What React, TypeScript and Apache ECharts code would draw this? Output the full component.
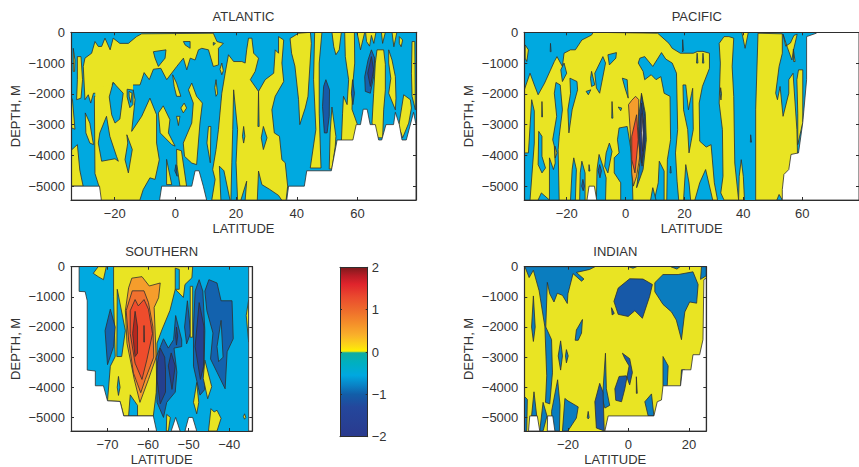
import React, { useEffect, useRef } from "react";
import * as echarts from "echarts";

const depthTicks = [0, -1000, -2000, -3000, -4000, -5000];
const depthBottom = -5450;
const atlanticLat = [-34.4, 79.3];
const pacificLat = [-34.4, 79.3];
const southernLat = [-79, -34.3];
const indianLat = [-34.4, 25.7];
const atlanticTicks = [-20, 0, 20, 40, 60];
const pacificTicks = [-20, 0, 20, 40, 60];
const southernTicks = [-70, -60, -50, -40];
const indianTicks = [-20, 0, 20];
const barTicks = [2, 1, 0, -1, -2];

// contour levels (P joins two yellow regions of the same level, with no contour line between them)
const Y = 0.25, P = 0.26, O = 0.75, R = 1.25, D = 1.75, C = -0.25, B = -0.75, M = -1, N = -1.25, K = -1.75, X = 9, L = 99;

// [level, lat, depth, lat, depth, ...]
const atlanticRegions: number[][] = [
  [Y, -29.8,-840,-27.6,-680,-26.5,-300,-25.4,-460,-24.3,-460,-23.2,-190,-21.5,-570,-20.5,-190,-18.3,-360,-15.5,-360,-12.8,-140,-11.1,-50,12.5,-30,13.7,-300,15.8,-360,14.2,-520,14.2,-1060,12.5,-1110,10.9,-570,8.7,-520,7.6,-570,6.5,-900,4.9,-840,3.75,-1220,2.65,-840,0.45,-1110,-2.85,-1540,-4.8,-1170,-7.25,-1200,-8.6,-1540,-10.3,-1310,-11.65,-1710,-13.85,-1710,-15.5,-1760,-17.7,-1780,-18.8,-1810,-20.5,-1630,-22.1,-2030,-23.2,-1870,-24.3,-2030,-25.4,-1980,-27,-1980,-27.9,-2300,-28.7,-2030,-29.8,-2190,-30.35,-1110],
  [Y, -32.3,-790,-31.1,-790,-30.6,-1540,-31.1,-2140,-32.55,-2190,-32.3,-1540],
  [Y, -33.65,-520,-33.1,-900,-33.2,-1270,-33.65,-1270],
  [Y, -34.4,-2100,-33.9,-2200,-33.1,-3150,-34.4,-3100],
  [Y, -34.4,-5000,-34.4,-3840,-32.3,-3650,-31.5,-4480,-30.4,-5000],
  [Y, -29.7,-2620,-28.2,-2950,-27,-3650,-28.2,-3600,-29.5,-3270],
  [Y, -26.5,-4590,-26.7,-2080,-25.2,-2080,-24.3,-2190,-22.7,-1870,-19.9,-1780,-13.9,-1870,-13.3,-2190,-14.4,-3220,-11.1,-2730,-8.4,-2140,-6.2,-2680,-6.2,-3600,-5.3,-4140,-6.7,-4780,-8.4,-4730,-10.6,-5110,-11.7,-5450,-24.9,-5450,-25.2,-5000],
  [P, -26.4,-1800,-13.95,-1600,-14,-2300,-26.4,-2300],
  [C, -22.7,-2730,-21.6,-3380,-19.4,-4030,-18.8,-4190,-19.9,-4110,-24.3,-4190,-25.4,-3600,-24.9,-3270],
  [C, -16,-3330,-14.2,-3810,-15.5,-4570,-16.6,-4140,-15.7,-3600],
  [C, -20.5,-1630,-18.8,-1810,-17.2,-1980,-18.3,-2820,-19.9,-2950,-21,-2680,-21.8,-2100],
  [C, -15.9,-1850,-13.9,-1880,-14,-2350,-15,-2450,-15.9,-2100],
  [Y, -15.3,-1920,-14.3,-1980,-14.7,-2280,-15.2,-2100],
  [C, -7.25,-630,-3.1,-570,-3.4,-840,-5.6,-1110,-6.7,-840],
  [C, 2.65,-300,4.85,-300,4.85,-520,3.2,-410],
  [C, 12.5,-330,13.2,-360,12.5,-420],
  [Y, -4,-2390,-1.8,-2840,-2.3,-3270,-0.1,-3700,-1.2,-3650,-5,-3270,-5.6,-2620],
  [Y, -2.9,-4130,-1.2,-4950,-2.9,-4950],
  [Y, 0.4,-3800,2,-3850,3.7,-5000,1.5,-5000,0.5,-4300],
  [Y, 5.4,-1650,7,-2080,8.9,-2300,8.1,-2950,7,-4300,5.4,-4250,3,-4030,2.6,-3600,5.4,-2950,5.9,-2300,4.3,-1870],
  [Y, -0.9,-1380,0.4,-1650,1.8,-2080,0.4,-2080,-0.4,-1760],
  [Y, 2.9,-2300,3.7,-2460,2.6,-2620,1.8,-2460],
  [Y, 0.4,-2730,1.5,-2730,1,-3030],
  [Y, 10.9,-3060,11.7,-3060,11.5,-4240,10.4,-3600],
  [Y, 13.4,-1540,13.9,-2000,13.4,-2080,13,-1800],
  [Y, 15.3,-1000,15.8,-1250,15.3,-1380,14.7,-1200],
  [Y, 17.5,-730,16.4,-1330,15.3,-1980,14.2,-3160,13.4,-3810,12.3,-4460,13.1,-4780,12,-5450,36.5,-5450,37,-5000,36.2,-4240,35.1,-4140,34.3,-3380,32.6,-3270,31.8,-2520,32.9,-2080,35.7,-1600,35.1,-1000,35.7,-250,34,-140,34,-680,32.9,-570,32.4,-1330,29.6,-1540,27.4,-1920,24.7,-1540,26.3,-1270,27.4,-840,25.8,-680,25.2,-190,24.1,-190,23.5,-570,23,-1000,21.9,-950,19.2,-950],
  [C, 19.2,-1870,20.5,-3160,20,-4240,20.5,-5450,18.3,-5450,18.6,-4240,18.9,-3160],
  [C, 14.5,-4350,16,-4500,18,-5450,15,-5450],
  [C, 23.5,-4840,21.6,-5450,23,-5450],
  [C, 27.4,-4510,28.5,-4950,31,-5100,34,-5300,35,-5450,27,-5450],
  [C, 27.4,-1920,27.6,-3060,27.2,-3060],
  [C, 22.5,-3060,22.9,-3380,22.5,-3600,22.1,-3380],
  [C, 29,-3060,30.2,-3430,29,-3810,28.3,-3430],
  [Y, 37.8,-200,40.6,-30,44.5,0,44.8,-360,43.7,-2080,42.8,-2460,41,-3000,40.6,-2190,39.4,-1100,38.3,-680],
  [Y, 45.9,0,48.3,0,47.4,-1000,47.4,-2630,48,-4410,44.45,-4410,46.3,-3160,45.55,-1540],
  [Y, 51.6,0,54.7,0,54,-570,52.9,-730,52.2,-470],
  [Y, 51,-3270,51.6,-2430,52.9,-3380,52.7,-3700,51.6,-4440,50.7,-4440],
  [Y, 55.8,0,59,0,59.1,-1000,58.4,-1760,58.2,-2500,60,-3000,59.3,-3600,54.7,-3600,55.1,-2630,55.4,-2080,56.6,-2350,57.1,-1540,56,-790],
  [Y, 59.85,0,62.4,0,61,-570,60.4,-250],
  [Y, 62.7,0,66.1,0,65.4,-360,64.6,-100,64,-450,63,-300],
  [Y, 67.9,0,69.2,0,68.3,-360],
  [Y, 71.4,0,73,0,72,-470],
  [Y, 73.8,-140,74.9,-250,74.4,-470,73.8,-360],
  [Y, 66.45,-570,68.65,-570,69.2,-1040,69.2,-1870,68.65,-2520,68.3,-3430,66.8,-3430,64.8,-2950,65.35,-1980,65.9,-1000],
  [Y, 70.3,-570,71.4,-900,72.5,-1440,72.7,-2140,72.5,-2520,70.3,-1980,71,-1500,70.3,-1000],
  [Y, 75.25,-2030,77.45,-2190,77.8,-2460,76.9,-2950,74.9,-3430,73.6,-3050],
  [Y, 78,-300,78.9,-300,79.1,-2520,78,-2080,77.8,-1330],
  [N, 49.6,-1540,50.8,-1870,50.7,-2730,50,-3270,49.1,-3270,48.5,-2410,48.85,-1760],
  [M, 58.4,-1540,59,-1980,58.5,-2350,58,-1980],
  [M, 64.6,-570,65.7,-840,65.35,-1440,64.25,-1980,62.6,-1920,62.4,-1440,63.5,-900],
  [K, 64.6,-790,65.35,-1220,64.25,-1760,63.4,-1330],
  [M, 0.2,-4300,0.6,-4680,-0.2,-4500],
  [L, -34.4,-5000,-25,-5000,-24.4,-5450,-34.4,-5450],
  [L, -5.2,-5450,-4.5,-5000,5.4,-5000,6.5,-4500,7.8,-4500,9.2,-5000,10.3,-5450],
  [L, 36.7,-5450,37.3,-5000,42.5,-5000,43.3,-4500,51.4,-4500,53.3,-3500,58.5,-3500,59.6,-3000,61,-3000,61.9,-2500,63.2,-2500,64.2,-3000,65.9,-3000,67,-3500,68,-3500,69.4,-3000,71.9,-3000,72.5,-2600,73.8,-3000,74.7,-3500,76.1,-3500,78.5,-2600,79.3,-3000,79.3,-5450],
];

const pacificRegions: number[][] = [
  [Y, -34.4,-1870,-32.45,-1330,-30.8,-1760,-29.7,-2030,-27.5,-1650,-24.2,-950,-23.3,-790,-21.45,-1110,-20.9,-680,-18.7,-570,-17.05,-570,-14.85,-250,-11.55,-90,-11,0,10.9,-30,14.75,-360,15.85,-520,18.6,-680,23,-680,24.5,-620,26.3,-620,28.5,-680,28.5,-1170,26.1,-1760,25,-2300,25.2,-3540,27.4,-3730,29.05,-3650,30.15,-4890,31.25,-5450,-34.4,-5450],
  [Y, -34.1,-410,-33,-570,-33.55,-950,-34.1,-840],
  [C, -25.5,-360,-25.3,-630,-25.6,-630],
  [C, -20.9,-1000,-20,-1330,-21.45,-1600,-22,-1220],
  [C, -31.9,-2190,-31,-2560,-31,-3600,-32.45,-5450,-34.4,-5450,-34.4,-3920,-33,-3920],
  [C, -28.4,-2250,-28.2,-2750,-28.5,-2750],
  [C, -29.5,-3220,-28.4,-3380,-28.4,-4030,-27.2,-4410,-28.4,-4570,-29.7,-4300],
  [C, -23.65,-1630,-22.2,-1710,-21.45,-2520,-22.55,-3380,-22.9,-3810,-22.55,-5450,-25.85,-5450,-25.85,-4080,-24.5,-4460,-23.9,-4250,-24.2,-3700,-24.75,-3490,-23.4,-2730,-24.2,-1980],
  [Y, -24,-3700,-23.3,-3920,-23.9,-4080],
  [C, -18.9,-1490,-16.5,-1600,-16.3,-1870,-18.15,-2520,-19.25,-3270,-19.6,-2520,-18.7,-1980],
  [C, -6,-730,-3.1,-660,-3.3,-840,-5.5,-1060],
  [C, -7.7,-790,-6.8,-1000,-8.8,-1980,-9.9,-1810,-10.45,-1330],
  [C, -11.55,-1270,-10.45,-1710,-11.55,-1760,-11.9,-1500],
  [C, -13.4,-1920,-11.8,-1870,-12.65,-2030],
  [C, -4.6,-2250,-4.3,-2790,-4.7,-2790],
  [C, -2.5,-2430,-1.3,-2460,-1.65,-2550],
  [C, -1.1,-1490,0.55,-1540,0.9,-2140,-0.2,-1810],
  [C, -2.2,-3110,0.55,-3060,2,-3920,2.5,-5450,-1.65,-5450,-1.65,-4890,-3.85,-4570,-3.85,-4080,-2.2,-3920,-2.75,-3490],
  [C, -17.6,-4080,-16.7,-4460,-17.05,-5450,-18.7,-5450,-18.15,-4460],
  [C, -14.85,-4190,-13.75,-4570,-13.75,-5450,-15.6,-5450,-15.4,-4570],
  [M, -14.5,-4780,-14,-5000,-14.4,-5150,-14.9,-5000],
  [C, -12.4,-4300,-12.1,-4510,-12.5,-4510],
  [C, -9,-3970,-7.7,-4350,-6.6,-4730,-6.8,-5450,-9.9,-5450,-9.7,-4460],
  [M, -8.8,-4300,-8.2,-4500,-8.7,-4730,-9.3,-4500],
  [C, -5.5,-3600,-4.6,-3870,-6,-4570,-7.1,-4350,-6.6,-3920],
  [C, -28.6,-5220,-25.85,-5450,-29.7,-5450],
  [C, 4.85,-840,6.5,-790,9.25,-1110,12.2,-660,13.65,-870,15.85,-1000,17.3,-1330,17.7,-3160,16.95,-3920,17.5,-4840,18.05,-5450,14,-5450,14.2,-4140,15.3,-3490,15.1,-2080,13.1,-1980,12,-1440,10.35,-1540,8.7,-1380,6.5,-1540,5.95,-1270,4.3,-1000],
  [C, 19.5,-1710,20.45,-1710,21.35,-2520,22.45,-1980,22.8,-1820,23,-3160,21.55,-3920,21.1,-3160,19.7,-2520],
  [C, 20.45,-4300,21.55,-4890,22.1,-5450,19.7,-5450],
  [C, 11.45,-4190,13.1,-4510,13.1,-5450,9.8,-5450,11.1,-4890],
  [C, 9.25,-5050,10.35,-5450,8.5,-5450],
  [C, 15.3,-4350,15.5,-4570,15.1,-4570],
  [C, 27.2,-4460,29.05,-5220,29.6,-5450,23.55,-5450,25.2,-4890],
  [C, 19.4,-240,19.7,-600,19.3,-640],
  [C, 24.3,-680,24.6,-1000,24.1,-1000],
  [C, 26.3,-680,26.6,-1000,26.1,-1000],
  [Y, 31.8,-360,33.45,-140,35.1,-140,36.75,-190,36.2,-1110,36.75,-2090,37.1,-4250,38.4,-5450,33.45,-5450,32.35,-5220,33.1,-4680,32.9,-3160,31.8,-2300,32.2,-1000],
  [C, 32.3,-1800,32.6,-2000,32.4,-2200,32.15,-2000],
  [Y, 39.5,0,41.7,0,40.6,-520],
  [Y, 39.3,-4140,40,-4680,40.4,-5450,38.4,-5450,38.6,-4680],
  [C, 42.5,-3330,42.8,-3570,42.4,-3570],
  [Y, 45,-30,53.25,-50,53.25,-680,52.15,-1110,51,-1980,51.6,-2190,52.5,-1760,53.5,-2730,55.45,-1980,55.45,-1540,56.9,-1330,58.2,-3160,58.4,-3920,58.4,-5450,44.2,-5450,44.2,-2500],
  [Y, 53.5,-60,54.4,-450,56,-350,57.2,-100,58.3,-60,57,-600,56.5,-900,55,-500],
  [Y, 57,-550,57.6,-950,57.1,-950],
  [Y, 58.75,-1220,60.2,-1220,60.2,-2930,58.5,-3650,58.5,-2630,58.2,-1540],
  [C, 52.15,-5270,53.25,-5450,51.4,-5450],
  [O, 1,-2350,2.1,-2210,3.4,-2080,4.5,-2190,4.3,-3060,4.85,-4030,3.75,-4680,2.65,-5000,2.1,-4570,1.55,-3160],
  [R, 2.1,-3380,3.75,-2680,4.3,-3490,3.2,-4570,2.1,-4140],
  [B, 5.4,-1980,6.7,-2630,7.05,-3490,5.95,-4460,3.75,-5050,4.85,-4240,4.8,-3000],
  [N, 5.4,-2030,6.5,-2730,6.7,-3490,5.6,-4350,4.5,-3600,4.5,-2730],
  [K, 5.4,-2300,6.3,-3060,6.3,-3700,5.4,-4240,4.75,-3380],
  [X, 5.6,-2630,5.95,-3270,5.75,-3870,5.4,-3270],
  [L, 64.8,-30,61.5,-140,61.5,-1540,60.2,-2930,58.75,-3920,56.2,-3970,55.45,-4460,53.8,-4620,53.25,-5110,53.25,-5450,79.3,-5450,79.3,0,64.8,0],
  [L, -13.1,-5450,-12.4,-5000,-10.6,-5000,-9.8,-5450],
];

const southernRegions: number[][] = [
  [Y, -68.5,0,-49,0,-49.2,-370,-50.9,-590,-51.3,-1020,-53.3,-750,-54.6,-1450,-56.6,-2100,-57.8,-2540,-57.8,-3300,-58,-4180,-58.7,-4950,-66,-4950,-66.9,-4470,-70,-4450,-69.3,-3300,-68.1,-2980,-68.5,-1000],
  [Y, -73.5,-220,-72.3,0,-70.3,0,-71,-430,-72.3,-330],
  [C, -53.3,-50,-52.3,-90,-52.3,-750,-53.3,-750],
  [C, -67.6,-750,-65.6,-2120,-66.5,-2980,-67.7,-2980],
  [C, -64.4,-4250,-62.6,-4600,-62.6,-4950,-64.8,-4950],
  [C, -67.3,-3640,-66.9,-4000,-67.3,-4270,-67.6,-4000],
  [O, -64,-380,-61.5,-330,-59.7,-640,-57,-540,-57.4,-1030,-58.5,-1350,-58,-3000,-59.9,-3740,-62,-4500,-63.4,-3740,-65.2,-2540,-65.6,-1460,-64.8,-700],
  [1, -63.9,-800,-61,-800,-59.9,-1190,-58.8,-2000,-58.6,-3000,-60.7,-3740,-61.8,-4180,-63.6,-3530,-64.8,-2430,-65.4,-1460],
  [R, -63.2,-1090,-62.4,-1300,-61,-1090,-59.9,-1410,-58.9,-2220,-60.3,-3090,-61.5,-3740,-63.2,-3200,-64.4,-2220,-64.4,-1460],
  [D, -63.2,-1480,-62.6,-2000,-62.6,-2870,-63.2,-2980,-63.8,-2220],
  [D, -61,-1950,-60.9,-2500,-61.05,-2500],
  [M, -69.3,-1410,-68.1,-2000,-68.5,-2650,-70,-3250,-70.6,-2120],
  [M, -56.2,-2390,-55,-2700,-53.7,-2420,-53.2,-1620,-51.7,-2430,-51.7,-2650,-53.6,-2700,-52.9,-3500,-53.3,-4160,-55.4,-4500,-56.2,-5000,-57.8,-4500,-58,-3000],
  [M, -50.3,-1130,-49.5,-2200,-50.5,-2560,-51,-2000],
  [M, -47.4,-430,-46.5,-810,-46,-2120,-46.2,-3300,-46,-4070,-47.2,-4260,-48.8,-3300,-48.8,-2000,-48.4,-810],
  [M, -45,-430,-43,-540,-42,-1130,-39.3,-1130,-39,-2390,-40.5,-2820,-41,-4050,-43,-3500,-44.6,-3060,-44,-2200,-45.5,-1460,-46,-810],
  [C, -42,-1780,-41.5,-3000,-42.6,-3150,-43,-2650],
  [K, -57,-2700,-55.9,-3000,-55.7,-3420,-55.7,-4160,-57,-4550,-57.8,-3740,-57.7,-3200],
  [K, -54.3,-2860,-53.3,-3290,-54.1,-4070,-55,-3290],
  [K, -47.4,-1190,-46.2,-2000,-46.3,-3300,-47.1,-3740,-48.4,-2650],
  [K, -53,-2000,-52.7,-2300,-53,-2600,-53.2,-2300],
  [Y, -35.2,-1100,-35.8,-1620,-35.2,-2500],
  [Y, -46,-3100,-44.3,-3980,-45.3,-4380,-46.4,-3700],
  [Y, -49.6,-650,-49,-650,-49,-2340,-49.6,-2340],
  [Y, -48,-3840,-47.5,-4500,-48,-4880,-48.8,-4500],
  [Y, -44.5,-4710,-43.7,-4820,-43,-4760,-42,-5030,-43,-5450,-45.1,-5450],
  [Y, -55.4,-4900,-54.5,-5000,-55,-5450,-55.5,-5450],
  [Y, -36.2,-4880,-35.9,-5000,-36.2,-5060,-36.5,-4970],
  [L, -77,0,-77,-820,-75.5,-830,-75,-1130,-75,-3430,-73,-3460,-73,-3950,-71,-3950,-70,-4450,-66.9,-4470,-66,-4950,-58.7,-4950,-57.9,-5450,-79,-5450,-79,0],
  [L, -35.2,0,-34.3,0,-34.3,-5450,-35.2,-5450],
  [L, -54.3,-5450,-53.2,-5000,-52.1,-5450],
  [L, -50.9,-5450,-50,-5000,-49,-5000,-48,-5450],
];

const indianRegions: number[][] = [
  [B, -34.4,0,-11.1,0,-12.8,-90,-17.2,-190,-14.7,-410,-15.5,-480,-18.3,-230,-20,-900,-20.2,-1220,-21.8,-950,-23.5,-880,-24.6,-1170,-26,-900,-26.8,-520,-27.3,-2000,-25.4,-2420,-25.1,-3520,-26,-4550,-27.4,-4500,-27,-3620,-27.6,-2000,-29.5,-800,-31.4,-120,-32.8,-360,-34.2,0],
  [B, -31.4,-970,-30.8,-2000,-31.4,-2480,-32,-2000],
  [B, -22.4,-2460,-21.8,-2960,-22.4,-3430,-23.2,-2960],
  [B, -20.5,-2750,-19.9,-2960,-20.5,-3190,-20.8,-2960],
  [B, -17.2,-2100,-15.2,-1750,-15.5,-2200,-16.6,-2440,-17.6,-2440],
  [B, -23.4,-3750,-22.6,-4600,-22.8,-5450,-25.1,-5450,-25.4,-4800],
  [B, -21,-4370,-20,-4450,-16.6,-4650,-17.2,-5020,-20,-5450,-21.8,-5450],
  [B, -34.4,-4300,-33.4,-4400,-33.6,-5450,-34.4,-5450],
  [B, -32,-4950,-31.2,-4150,-30.3,-4950],
  [B, -28.2,-4500,-26.9,-4950,-28.2,-5450,-29.3,-5450],
  [B, -7.6,-2870,-7.3,-4050,-6.2,-4600,-7.8,-4690,-8.6,-4390],
  [N, -9.5,-3870,-8.4,-4170,-8,-5450,-10.6,-5350,-11.1,-4480],
  [N, 0.4,-400,4.8,-410,7.9,-590,7,-980,4.6,-1710,2.1,-1460,-0.1,-1650,-3.4,-1580,-4.8,-1150,-3.4,-710],
  [N, -5.6,-1360,-4.7,-1550,-5.4,-1600],
  [B, 8.7,-530,11.4,-260,16.4,-260,21.3,-170,23,-590,22.5,-1210,20.2,-1170,18.6,-1500,17.5,-2420,15.8,-1770,14.2,-1500,11.4,-1250,8.7,-830],
  [N, -2,-2870,0.4,-3050,1.3,-3510,0.4,-3920,-0.7,-3620,-3.1,-3640,-4.5,-4050,-4.2,-4430,-2.3,-4480,-1.2,-4050,0.2,-3290,-1.2,-3050],
  [B, 11.4,-2980,13.1,-3290,12.8,-3950,11.4,-3950],
  [B, 5.4,-4480,7.6,-4220,8.4,-4950,6.5,-4950],
  [B, 17.5,-3420,18.6,-3420,17.2,-3950],
  [B, 24.1,0,25.7,0,25.7,-300,23.8,-420],
  [B, 0,0,2.7,0,1.5,-50],
  [B, 14,0,17,0,16,-80],
  [B, -13.3,-4800,-13,-5000,-13.3,-5050,-13.6,-5000],
  [N, 2.6,-3650,2.9,-4200,2.6,-4200],
  [L, 25.7,-380,24.9,-430,24.6,-2420,23.5,-2920,21.3,-2920,20.6,-3420,17.8,-3420,17.2,-3950,11.4,-3950,10.9,-4420,9.5,-4480,8.4,-4950,-6.7,-4950,-7.8,-5450,25.7,-5450],
  [L, -33,-5450,-32.6,-4950,-30.1,-4950,-29.3,-5450],
  [L, -26.8,-5450,-26.7,-4950,-25,-4950,-24.3,-5450],
];

const barStops: [number, string][] = [
  [2, "#7d1a1c"], [1.8, "#b81c26"], [1.6, "#e0242c"], [1.3, "#ea4a2e"], [1, "#ee6a2c"],
  [0.7, "#f48c2a"], [0.4, "#fab02a"], [0.15, "#fcd816"], [0.02, "#fff000"],
  [-0.02, "#10aca0"], [-0.25, "#00b0c0"], [-0.55, "#00a8e0"], [-0.8, "#0a80c4"],
  [-1, "#125ea8"], [-1.3, "#24479c"], [-2, "#2a3a8e"],
];

const levelColor: Record<number, string> = {
  [Y]: "#e9e423", [P]: "#e9e423", [O]: "#f59d2c", 1: "#f0702e", [R]: "#ee4c2c", [D]: "#b4271f",
  [C]: "#00a9e0", [B]: "#0a7dbf", [M]: "#1362ae", [N]: "#1759a8", [K]: "#24408f", [X]: "#ffffff", [L]: "#ffffff",
};

const INK = "#2e2e2e";
const TEXT = "#333333";
const FONT = "Liberation Sans";
const minus = (v: number | string) => String(v).replace("-", "\u2212");

type Panel = {
  title: string; lat: number[]; ticks: number[]; regions: number[][]; base: number;
  left: number; top: number; width: number; height: number;
};
const panels: Panel[] = [
  { title: "ATLANTIC", lat: atlanticLat, ticks: atlanticTicks, regions: atlanticRegions, base: C, left: 71, top: 32.3, width: 345, height: 167.7 },
  { title: "PACIFIC", lat: pacificLat, ticks: pacificTicks, regions: pacificRegions, base: C, left: 524.3, top: 32.3, width: 345, height: 167.7 },
  { title: "SOUTHERN", lat: southernLat, ticks: southernTicks, regions: southernRegions, base: C, left: 71, top: 266.7, width: 181.3, height: 167.6 },
  { title: "INDIAN", lat: indianLat, ticks: indianTicks, regions: indianRegions, base: Y, left: 524.3, top: 266.7, width: 182, height: 167.6 },
];

function buildOption() {
  const grid: any[] = [], xAxis: any[] = [], yAxis: any[] = [], series: any[] = [], title: any[] = [];
  const line = { show: true, onZero: false, lineStyle: { color: INK, width: 1.2 } };
  const labelStyle = { color: TEXT, fontFamily: FONT, fontSize: 13 };
  panels.forEach((p, i) => {
    grid.push({ left: p.left, top: p.top, width: p.width, height: p.height });
    title.push({
      text: p.title, left: p.left + p.width / 2, top: p.top - 22, padding: 0, textAlign: "center",
      textStyle: { ...labelStyle, fontWeight: "normal" },
    });
    const xi = xAxis.length, yi = yAxis.length;
    xAxis.push({
      type: "value", gridIndex: i, position: "bottom", min: p.lat[0], max: p.lat[1], z: 6,
      name: "LATITUDE", nameLocation: "middle", nameGap: 22, nameTextStyle: labelStyle,
      axisLine: line, splitLine: { show: false },
      axisTick: { show: true, inside: true, length: 3, customValues: p.ticks, lineStyle: { color: INK } },
      axisLabel: { ...labelStyle, margin: 7, customValues: p.ticks, formatter: minus },
    });
    xAxis.push({
      type: "value", gridIndex: i, position: "top", min: p.lat[0], max: p.lat[1], z: 6,
      axisLine: line, splitLine: { show: false }, axisLabel: { show: false },
      axisTick: { show: true, inside: true, length: 3, customValues: p.ticks, lineStyle: { color: INK } },
    });
    yAxis.push({
      type: "value", gridIndex: i, position: "left", min: depthBottom, max: 0, z: 6,
      name: "DEPTH, M", nameLocation: "middle", nameGap: 49, nameTextStyle: labelStyle,
      axisLine: line, splitLine: { show: false },
      axisTick: { show: true, inside: true, length: 3, customValues: depthTicks, lineStyle: { color: INK } },
      axisLabel: { ...labelStyle, margin: 6, customValues: depthTicks, formatter: minus },
    });
    yAxis.push({
      type: "value", gridIndex: i, position: "right", min: depthBottom, max: 0, z: 6,
      axisLine: line, splitLine: { show: false }, axisLabel: { show: false },
      axisTick: { show: true, inside: true, length: 3, customValues: depthTicks, lineStyle: { color: INK } },
    });
    const all = [[p.base, p.lat[0], 0, p.lat[1], 0, p.lat[1], depthBottom, p.lat[0], depthBottom], ...p.regions];
    series.push({
      type: "custom", coordinateSystem: "cartesian2d", xAxisIndex: xi, yAxisIndex: yi, clip: true, silent: true,
      data: all.map((r) => [r[1], r[2]]),
      renderItem: (params: any, api: any) => {
        const r = all[params.dataIndex];
        const pts: number[][] = [];
        for (let k = 1; k < r.length; k += 2) pts.push(api.coord([r[k], r[k + 1]]));
        const bare = params.dataIndex === 0 || r[0] === P;
        return {
          type: "polygon", shape: { points: pts },
          style: { fill: levelColor[r[0]], stroke: bare ? "none" : INK, lineWidth: 0.8, lineJoin: "round" },
        };
      },
    });
  });
  // colour bar
  const bi = panels.length;
  grid.push({ left: 340, top: 267.3, width: 27.7, height: 169.4 });
  const barLine = { show: true, onZero: false, lineStyle: { color: INK, width: 1 } };
  xAxis.push({ type: "value", gridIndex: bi, position: "bottom", min: 0, max: 1, z: 6, axisLine: barLine, axisTick: { show: false }, axisLabel: { show: false }, splitLine: { show: false } });
  const barX = xAxis.length - 1;
  xAxis.push({ type: "value", gridIndex: bi, position: "top", min: 0, max: 1, z: 6, axisLine: barLine, axisTick: { show: false }, axisLabel: { show: false }, splitLine: { show: false } });
  yAxis.push({
    type: "value", gridIndex: bi, position: "right", min: -2, max: 2, interval: 1, z: 6, axisLine: barLine, splitLine: { show: false },
    axisTick: { show: true, inside: true, length: 2, lineStyle: { color: INK } },
    axisLabel: { ...labelStyle, margin: 4, formatter: minus, customValues: barTicks },
  });
  const barY = yAxis.length - 1;
  yAxis.push({
    type: "value", gridIndex: bi, position: "left", min: -2, max: 2, interval: 1, z: 6, axisLine: barLine, splitLine: { show: false },
    axisTick: { show: true, inside: true, length: 2, lineStyle: { color: INK } }, axisLabel: { show: false },
  });
  series.push({
    type: "custom", coordinateSystem: "cartesian2d", xAxisIndex: barX, yAxisIndex: barY, silent: true,
    data: [[0, -2]],
    renderItem: (_: any, api: any) => {
      const a = api.coord([0, 2]), b = api.coord([1, -2]);
      return {
        type: "rect", shape: { x: a[0], y: a[1], width: b[0] - a[0], height: b[1] - a[1] },
        style: {
          fill: new echarts.graphic.LinearGradient(0, 0, 0, 1,
            barStops.map(([v, color]) => ({ offset: (2 - v) / 4, color }))),
        },
      };
    },
  });
  return { animation: false, backgroundColor: "#ffffff", title, grid, xAxis, yAxis, series };
}

export default function App() {
  const ref = useRef<HTMLDivElement>(null);
  useEffect(() => {
    const chart = echarts.init(ref.current!, undefined, { renderer: "svg" });
    chart.setOption(buildOption() as any);
    return () => chart.dispose();
  }, []);
  return <div ref={ref} style={{ position: "absolute", left: 0, top: 0, width: 859, height: 467 }} />;
}
